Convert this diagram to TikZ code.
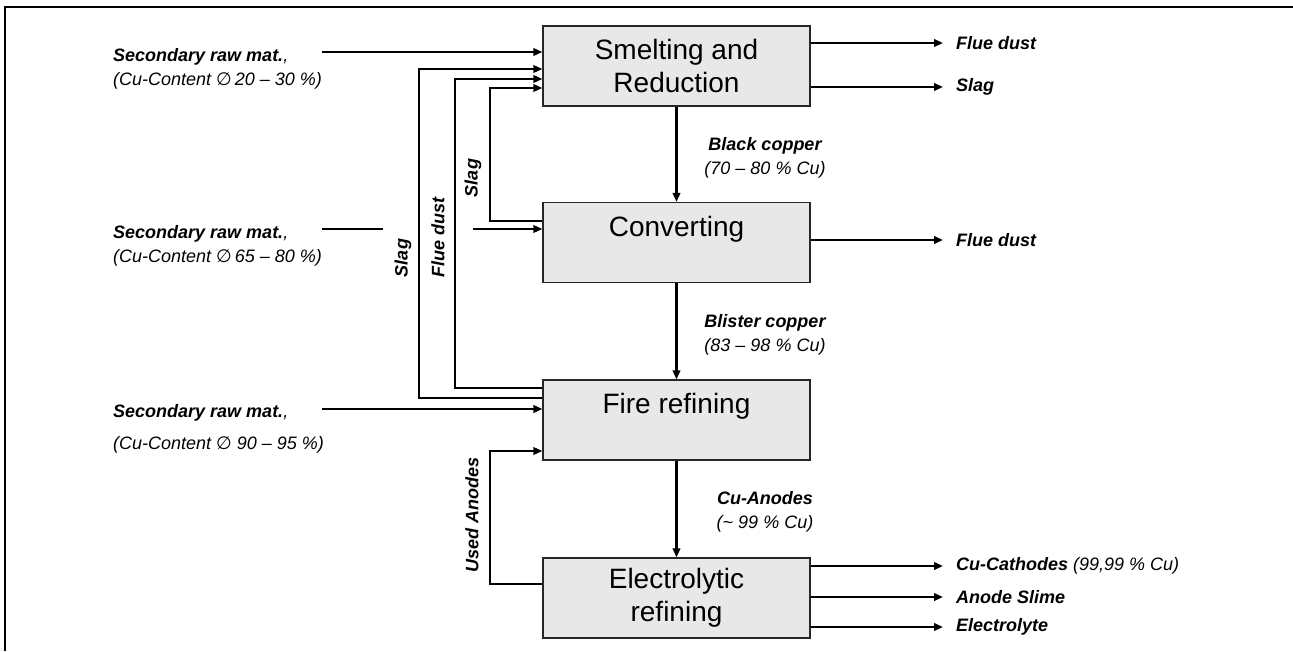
\documentclass[tikz,border=0pt]{standalone}
\usepackage{fontspec}
\setmainfont{Liberation Sans}
\newfontfamily\symfont{DejaVu Sans}
\usetikzlibrary{arrows.meta}
\newcommand{\dia}{{\symfont ∅}}
\begin{document}
\begin{tikzpicture}[x=1pt,y=-1pt,
  proc/.style={draw=black!85, fill=black!9, line width=1.2pt, minimum width=267pt,
    minimum height=80pt, inner sep=0pt, align=center,
    font=\fontsize{28}{33}\selectfont},
  flow/.style={line width=2.1pt, -{Triangle[length=9pt,width=7.5pt]}},
  pline/.style={line width=2.1pt},
  lbl/.style={inner sep=0pt, font=\fontsize{18}{24}\selectfont\bfseries\itshape},
  sub/.style={inner sep=0pt, font=\fontsize{18}{24}\selectfont\itshape},
  twol/.style={inner sep=0pt, align=center, font=\fontsize{18}{24}\selectfont\itshape},
  twoleft/.style={inner sep=0pt, align=left, font=\fontsize{18}{24}\selectfont\itshape}]
\useasboundingbox (0,0) rectangle (1293,651);
\draw[line width=2.2pt] (5,651) -- (5,7) -- (1293,7);

% process boxes
\node[proc] (smelt) at (676.5,66) {Smelting and\\Reduction};
\node[proc] (conv) at (676.5,242.5) {Converting\\~};
\node[proc] (fire) at (676.5,420) {Fire refining\\~};
\node[proc] (elec) at (676.5,598) {Electrolytic\\refining};

% main flow
\draw[flow] (smelt) -- (conv);
\draw[flow] (conv) -- (fire);
\draw[flow] (fire) -- (elec);
\node[twol] (lbc) at (765,158) {\bfseries Black copper\\(70 – 80 \% Cu)};
\node[twol] (lbl2) at (765,335) {\bfseries Blister copper\\(83 – 98 \% Cu)};
\node[twol] (lan) at (765,512) {\bfseries Cu-Anodes\\(\textasciitilde\ 99 \% Cu)};

% inputs
\node[twoleft, anchor=west] (raw1) at (113,69) {{\bfseries Secondary raw mat.},\\(Cu-Content \dia\,20 – 30 \%)};
\node[twoleft, anchor=west] (raw2) at (113,246) {{\bfseries Secondary raw mat.},\\(Cu-Content \dia\,65 – 80 \%)};
\node[sub, anchor=west] (raw3a) at (113,413) {{\bfseries Secondary raw mat.},};
\node[sub, anchor=west] (raw3b) at (113,445) {(Cu-Content \dia\ 90 – 95 \%)};

\coordinate (i1) at (322,52);
\draw[flow] (i1) -- (i1 -| smelt.west);
\coordinate (i2a) at (322,229);
\coordinate (i2b) at (383,229);
\coordinate (i2c) at (473,229);
\draw[pline] (i2a) -- (i2b);
\draw[flow] (i2c) -- (i2c -| conv.west);
\coordinate (i3) at (322,409);
\draw[flow] (i3) -- (i3 -| fire.west);

% recycle loops
\coordinate (sa) at (419,398);
\coordinate (sb) at (419,69);
\draw[flow] (sa -| fire.west) -- (sa) -- (sb) -- (sb -| smelt.west);
\coordinate (fa) at (455,388);
\coordinate (fb) at (455,79);
\draw[flow] (fa -| fire.west) -- (fa) -- (fb) -- (fb -| smelt.west);
\coordinate (ca) at (490,221);
\coordinate (cb) at (490,88);
\draw[flow] (ca -| conv.west) -- (ca) -- (cb) -- (cb -| smelt.west);
\coordinate (ua) at (490,584);
\coordinate (ub) at (490,451);
\draw[flow] (ua -| elec.west) -- (ua) -- (ub) -- (ub -| fire.west);

\node[lbl, rotate=90] (tslag1) at (403,258) {Slag};
\node[lbl, rotate=90] (tflue) at (438,237) {Flue dust};
\node[lbl, rotate=90] (tslag2) at (473,178) {Slag};
\node[lbl, rotate=90] (tused) at (472,515) {Used Anodes};

% outputs
\coordinate (o1) at (943,43);
\coordinate (o2) at (943,87);
\coordinate (o3) at (943,240);
\coordinate (o4) at (943,566);
\coordinate (o5) at (943,597);
\coordinate (o6) at (943,627);
\draw[flow] (o1 -| smelt.east) -- (o1);
\draw[flow] (o2 -| smelt.east) -- (o2);
\draw[flow] (o3 -| conv.east) -- (o3);
\draw[flow] (o4 -| elec.east) -- (o4);
\draw[flow] (o5 -| elec.east) -- (o5);
\draw[flow] (o6 -| elec.east) -- (o6);
\node[lbl, anchor=west] (l1) at (956,43) {Flue dust};
\node[lbl, anchor=west] (l2) at (956,87) {Slag};
\node[lbl, anchor=west] (l3) at (956,240) {Flue dust};
\node[lbl, anchor=west] (l4) at (956,566) {Cu-Cathodes {\mdseries(99,99 \% Cu)}};
\node[lbl, anchor=west] (l5) at (956,597) {Anode Slime};
\node[lbl, anchor=west] (l6) at (956,627) {Electrolyte};
\end{tikzpicture}
\end{document}
